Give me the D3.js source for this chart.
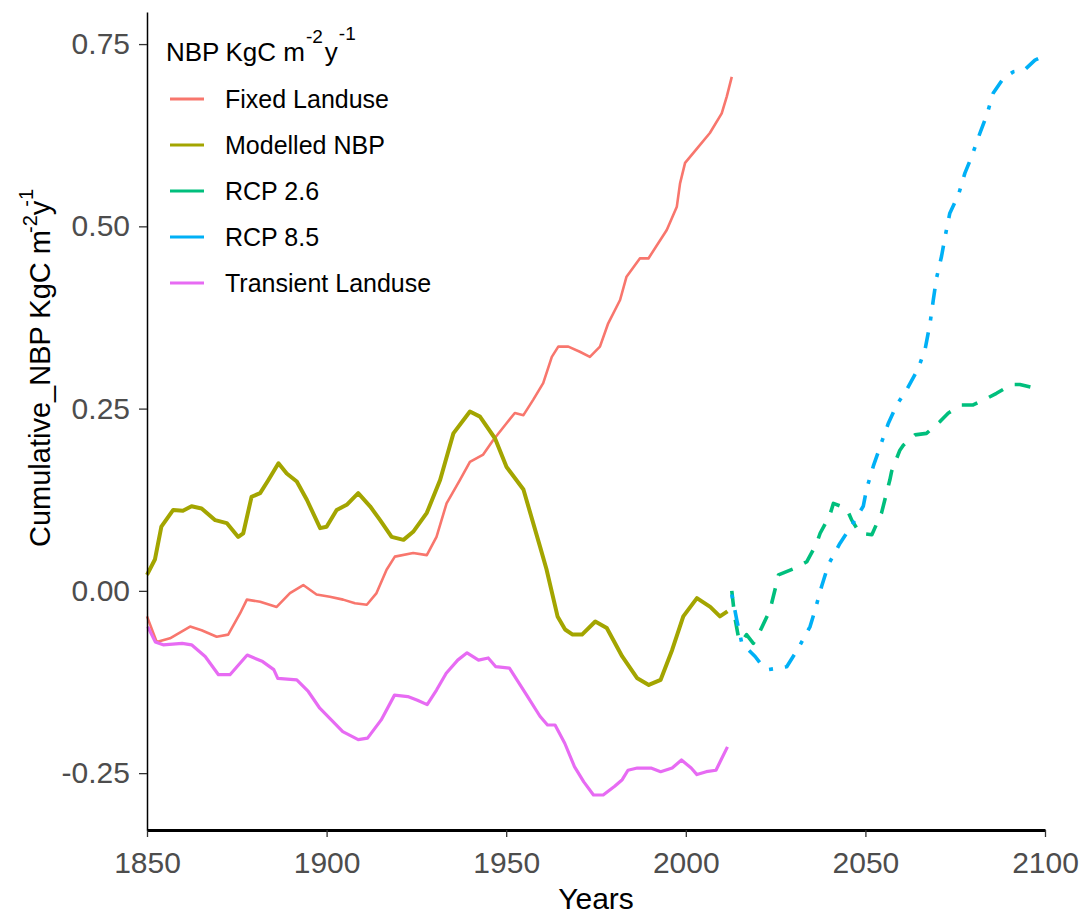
<!DOCTYPE html>
<html>
<head>
<meta charset="utf-8">
<script src="https://cdn.jsdelivr.net/npm/d3@7"></script>
<style>
  body { margin: 0; background: #fff; }
  text { font-family: "Liberation Sans", Arial, sans-serif; }
</style>
</head>
<body>
<div id="graph"></div>
<script>
// ---- data ----
const fixedYears  = [1850, 1852.7, 1856.4, 1862, 1865.2, 1869.4, 1872.6, 1875.9, 1877.8, 1881.5, 1886.1, 1889.8, 1893.5, 1897.2, 1900.9, 1904.6, 1907.9, 1911.2, 1913.9, 1916.7, 1919, 1924.1, 1927.9, 1930.6, 1933.4, 1937.1, 1939.9, 1943.6, 1946.4, 1950.1, 1952.4, 1954.8, 1957.5, 1960.3, 1962.7, 1964.5, 1967.3, 1970.5, 1973.3, 1976.1, 1978.4, 1981.7, 1983.5, 1987.2, 1989.6, 1994.7, 1997.5, 1998.4, 1999.8, 2003.5, 2006.7, 2010, 2011.4, 2012.8];
const fixedValues = [-0.035, -0.070, -0.065, -0.049, -0.054, -0.063, -0.060, -0.031, -0.012, -0.015, -0.022, -0.003, 0.008, -0.005, -0.008, -0.012, -0.017, -0.019, -0.003, 0.029, 0.047, 0.052, 0.049, 0.074, 0.120, 0.152, 0.177, 0.187, 0.207, 0.230, 0.244, 0.241, 0.262, 0.285, 0.321, 0.335, 0.335, 0.328, 0.321, 0.335, 0.367, 0.399, 0.431, 0.456, 0.456, 0.495, 0.527, 0.559, 0.587, 0.609, 0.628, 0.655, 0.678, 0.705];

const modelYears  = [1850, 1852.2, 1854, 1857.3, 1860, 1862.4, 1865.2, 1869, 1872.2, 1875.4, 1876.8, 1879.1, 1881.5, 1883.8, 1886.6, 1888.9, 1891.7, 1894.5, 1898.2, 1900, 1902.8, 1905.6, 1908.8, 1912.1, 1914.9, 1918.1, 1921.4, 1924.1, 1927.9, 1931.6, 1935.3, 1939.9, 1942.7, 1946.9, 1950.1, 1954.8, 1959.4, 1961.2, 1964.3, 1966.4, 1968.5, 1971.1, 1974.8, 1978, 1982.3, 1986.5, 1989.7, 1993, 1996.2, 1999.3, 2003.1, 2006.8, 2009.5, 2011.6];
const modelValues = [0.022, 0.043, 0.088, 0.111, 0.110, 0.116, 0.113, 0.097, 0.093, 0.074, 0.079, 0.129, 0.134, 0.152, 0.175, 0.161, 0.150, 0.125, 0.086, 0.088, 0.111, 0.118, 0.134, 0.116, 0.097, 0.074, 0.070, 0.081, 0.107, 0.152, 0.216, 0.246, 0.239, 0.209, 0.170, 0.139, 0.061, 0.030, -0.035, -0.053, -0.060, -0.060, -0.042, -0.051, -0.090, -0.120, -0.129, -0.122, -0.081, -0.035, -0.010, -0.022, -0.035, -0.028];

const rcp26Years  = [2012.8, 2013.6, 2014.6, 2015.6, 2016.9, 2018.8, 2020.2, 2023, 2023.9, 2025.3, 2025.8, 2030.4, 2033.7, 2036.4, 2037.4, 2040.1, 2041.1, 2044.8, 2046.2, 2048.5, 2051.8, 2054.5, 2056.8, 2057.3, 2059.6, 2060.6, 2063.8, 2067, 2070.7, 2073.1, 2076.8, 2080, 2083.8, 2086.5, 2090.7, 2093, 2097.2, 2098.5];
const rcp26Values = [0.000, -0.035, -0.062, -0.070, -0.060, -0.072, -0.060, -0.031, -0.017, 0.011, 0.022, 0.031, 0.040, 0.065, 0.079, 0.104, 0.120, 0.113, 0.097, 0.079, 0.077, 0.107, 0.152, 0.164, 0.193, 0.200, 0.214, 0.216, 0.232, 0.244, 0.255, 0.255, 0.264, 0.271, 0.283, 0.283, 0.278, 0.280];

const rcp85Years  = [2012.8, 2014.2, 2015.6, 2019.3, 2020.7, 2023, 2028.1, 2031.3, 2034.6, 2036, 2037.8, 2039.7, 2042.9, 2045.7, 2049.4, 2050.4, 2052.2, 2054.1, 2056.4, 2058.7, 2061.5, 2064.7, 2066.6, 2068, 2068.9, 2069.8, 2071.2, 2072.2, 2073.5, 2075.9, 2077.7, 2079.6, 2081.9, 2083.8, 2085.6, 2088.4, 2091.2, 2094.4, 2097.2, 2098.5];
const rcp85Values = [-0.005, -0.040, -0.072, -0.090, -0.099, -0.108, -0.104, -0.079, -0.049, -0.026, 0.006, 0.036, 0.065, 0.086, 0.116, 0.141, 0.171, 0.198, 0.230, 0.255, 0.276, 0.305, 0.331, 0.367, 0.399, 0.429, 0.459, 0.486, 0.518, 0.543, 0.573, 0.596, 0.628, 0.653, 0.683, 0.703, 0.712, 0.715, 0.728, 0.731];

const transYears  = [1850.2, 1852.3, 1854.5, 1859.8, 1862.4, 1866.2, 1869.9, 1873.1, 1877.9, 1882.2, 1885.3, 1886.4, 1891.7, 1894.9, 1898.1, 1901.3, 1904.5, 1908.8, 1911.4, 1915.2, 1918.9, 1922.6, 1925.3, 1928, 1930.6, 1933.3, 1936.5, 1939.1, 1942.3, 1945, 1947.1, 1950.9, 1955.7, 1959.4, 1961.5, 1963.6, 1966.3, 1969, 1971.6, 1974.3, 1977, 1980.2, 1982.3, 1983.9, 1986.5, 1990.3, 1993, 1996.2, 1998.8, 2001.5, 2003.1, 2005.7, 2008.4, 2010, 2011.6];
const transValues = [-0.049, -0.070, -0.074, -0.072, -0.074, -0.090, -0.115, -0.115, -0.088, -0.097, -0.108, -0.120, -0.122, -0.138, -0.161, -0.177, -0.193, -0.204, -0.202, -0.177, -0.143, -0.145, -0.150, -0.156, -0.136, -0.113, -0.095, -0.085, -0.095, -0.092, -0.104, -0.106, -0.143, -0.172, -0.184, -0.184, -0.209, -0.241, -0.262, -0.280, -0.280, -0.268, -0.259, -0.246, -0.243, -0.243, -0.248, -0.243, -0.232, -0.243, -0.252, -0.248, -0.246, -0.230, -0.214];

const seriesNames  = ["Fixed Landuse", "Modelled NBP", "RCP 2.6", "RCP 8.5", "Transient Landuse"];
const seriesColors = ["#F8766D", "#A3A500", "#00BF7D", "#00B0F6", "#E76BF3"];
const xTicks = [1850, 1900, 1950, 2000, 2050, 2100];
const yTicks = [-0.25, 0, 0.25, 0.5, 0.75];

// build series table from the arrays above
const zip = (xs, vs) => xs.map((yr, i) => ({year: yr, value: vs[i]}));
const series = [
  {name: seriesNames[0], color: seriesColors[0], width: 2.6, dash: null, data: zip(fixedYears, fixedValues)},
  {name: seriesNames[1], color: seriesColors[1], width: 4,   dash: null, data: zip(modelYears, modelValues)},
  {name: seriesNames[2], color: seriesColors[2], width: 3.6, dash: "16,13", data: zip(rcp26Years, rcp26Values)},
  {name: seriesNames[3], color: seriesColors[3], width: 3.6, dash: "4,12,16,12", data: zip(rcp85Years, rcp85Values)},
  {name: seriesNames[4], color: seriesColors[4], width: 3.2, dash: null, data: zip(transYears, transValues)}
];

// set the dimensions and margins of the graph
const margin = {top: 12, right: 38, bottom: 86, left: 147},
    width = 1083 - margin.left - margin.right,
    height = 916 - margin.top - margin.bottom;

const root = d3.select("#graph")
  .append("svg")
    .attr("width", width + margin.left + margin.right)
    .attr("height", height + margin.top + margin.bottom);
const svg = root.append("g")
    .attr("transform", `translate(${margin.left},${margin.top})`);

const x = d3.scaleLinear().domain([1850, 2100]).range([0, width]);
const y = d3.scaleLinear().domain([-0.328, 0.794]).range([height, 0]);

// lines
const line = d3.line().x(d => x(d.year)).y(d => y(d.value));
svg.selectAll(".series")
  .data(series)
  .join("path")
    .attr("class", "series")
    .attr("d", d => line(d.data))
    .attr("fill", "none")
    .attr("stroke", d => d.color)
    .attr("stroke-width", d => d.width)
    .attr("stroke-dasharray", d => d.dash)
    .attr("stroke-linejoin", "round");

// X axis
const xAxis = svg.append("g")
  .attr("transform", `translate(0,${height})`)
  .call(d3.axisBottom(x).tickValues(xTicks).tickFormat(d3.format("d"))
    .tickSize(7).tickPadding(15).tickSizeOuter(0));
xAxis.attr("font-size", null).attr("font-family", null);
xAxis.select(".domain").attr("stroke", "#000").attr("stroke-width", 3);
xAxis.selectAll(".tick line").attr("stroke", "#333").attr("stroke-width", 1.3);
xAxis.selectAll(".tick text").attr("fill", "#4D4D4D").style("font-size", "30px");

// Y axis
const yAxis = svg.append("g")
  .call(d3.axisLeft(y).tickValues(yTicks).tickFormat(d => d.toFixed(2))
    .tickSize(8).tickPadding(9).tickSizeOuter(0));
yAxis.attr("font-size", null).attr("font-family", null);
yAxis.select(".domain").attr("stroke", "#000").attr("stroke-width", 1.5);
yAxis.selectAll(".tick line").attr("stroke", "#333").attr("stroke-width", 1.3);
yAxis.selectAll(".tick text").attr("fill", "#4D4D4D").style("font-size", "30px");

// axis titles
root.append("text")
  .attr("x", margin.left + width / 2)
  .attr("y", 909)
  .attr("text-anchor", "middle")
  .style("font-size", "30px")
  .attr("fill", "#000")
  .text("Years");

const yTitle = root.append("text")
  .attr("transform", "rotate(-90)")
  .attr("x", -547)
  .attr("y", 50)
  .style("font-size", "29px")
  .attr("fill", "#000");
yTitle.append("tspan").text("Cumulative_NBP KgC m");
yTitle.append("tspan").attr("dy", -13).attr("dx", -3).style("font-size", "20px").text("-2");
yTitle.append("tspan").attr("dy", 13).attr("dx", -8).text(" y");
yTitle.append("tspan").attr("dy", -17).attr("dx", -6).style("font-size", "20px").text("-1");

// legend
const legend = root.append("g");
const lgTitle = legend.append("text")
  .attr("x", 166).attr("y", 61)
  .style("font-size", "26px")
  .attr("fill", "#000");
lgTitle.append("tspan").text("NBP");
lgTitle.append("tspan").attr("dx", 6).text("KgC m");
lgTitle.append("tspan").attr("dy", -18).attr("dx", 1).style("font-size", "19px").text("-2");
lgTitle.append("tspan").attr("dy", 18).attr("dx", 2).text("y");
lgTitle.append("tspan").attr("dy", -21).attr("dx", 1).style("font-size", "19px").text("-1");

const rowY = d3.scalePoint().domain(seriesNames).range([99, 283]);
const items = legend.selectAll(".item")
  .data(series)
  .join("g")
    .attr("class", "item")
    .attr("transform", d => `translate(0,${rowY(d.name)})`);
items.append("line")
  .attr("x1", 170).attr("x2", 204)
  .attr("stroke", d => d.color)
  .attr("stroke-width", 3.2);
items.append("text")
  .attr("x", 225)
  .attr("dy", "0.36em")
  .style("font-size", "25px")
  .attr("fill", "#000")
  .text(d => d.name);
</script>
</body>
</html>
